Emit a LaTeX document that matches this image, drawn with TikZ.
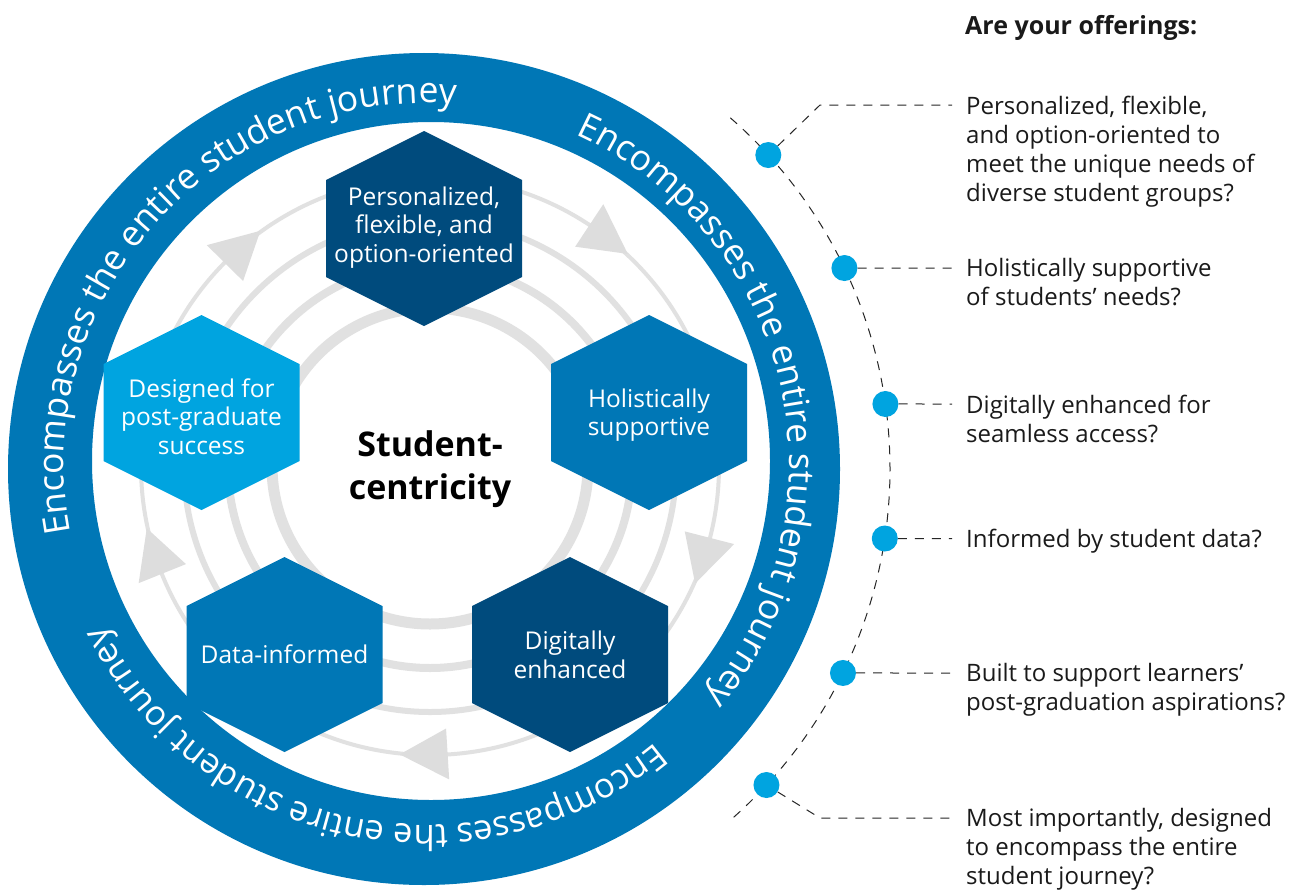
\documentclass[tikz,border=0pt]{standalone}
\usepackage{fontspec}
\setmainfont{Open Sans}
\usetikzlibrary{decorations.text}
\definecolor{ringblue}{HTML}{0077B6}
\definecolor{hexdark}{HTML}{004B7D}
\definecolor{hexmid}{HTML}{0077B6}
\definecolor{hexlight}{HTML}{00A4E0}
\definecolor{dotblue}{HTML}{00A4E0}
\definecolor{ringgray}{HTML}{E1E1E1}
\definecolor{arrowgray}{HTML}{DDDDDD}
\definecolor{txt}{HTML}{1A1A1A}
\begin{document}
\begin{tikzpicture}[x=1pt,y=1pt,
  hexbox/.style={text=white, align=center, font=\fontsize{24.5}{28.7}\selectfont, inner sep=0pt},
  qtext/.style={anchor=north west, align=left, text=txt, font=\fontsize{24}{29}\selectfont, inner sep=0pt},
  dot/.style={circle, fill=dotblue, minimum size=26pt, inner sep=0pt},
  leader/.style={draw=black!85, line width=1pt, dash pattern=on 9pt off 8pt},
]
\useasboundingbox (0,0) rectangle (1297,-891);
\fill[white] (0,0) rectangle (1297,-891);

% gray concentric rings
\coordinate (G) at (430,-466);
\foreach \r/\w in {158/11, 202/8, 246/6, 289/4}
  \draw[ringgray, line width=\w pt] (G) circle (\r);

% flow arrowheads
\foreach \a in {135.3, 56.5, -14.4, -86.5, 201.9} {
  \pgfmathsetmacro\b{\a-9.5}
  \fill[arrowgray] ([shift={(\a:263)}]G) -- ([shift={(\a:314)}]G) -- ([shift={(\b:290)}]G) -- cycle;
}

% outer blue ring
\fill[ringblue, even odd rule] (424,-469) circle (416) (431,-461) circle (339);

% ring texts
\coordinate (T) at (426,-465);
\foreach \c/\rr/\fs in {138/362/35.5, 13/363/35.5, -102/360/34.5} {
  \pgfmathsetmacro\sa{\c+64}
  \pgfmathsetmacro\ea{\c-64}
  \path[decorate, decoration={text along path, text align=center,
      text={|\fontsize{\fs}{40}\selectfont\color{white}|Encompasses the entire student journey}}]
    ([shift={(\sa:\rr)}]T) arc[start angle=\sa, end angle=\ea, radius=\rr];
}

% hexagons
\foreach \x/\y/\col in {424/228.5/hexdark, 649/412.5/hexmid, 570/654.5/hexdark, 284.5/654.5/hexmid, 201.5/412.5/hexlight} {
  \fill[\col] (\x,-\y) ++(0,97.5) -- ++(98,-49) -- ++(0,-97) -- ++(-98,-49) -- ++(-98,49) -- ++(0,97) -- cycle;
}
\node[hexbox] (hP) at (424,-227.5) {Personalized,\\flexible, and\\option-oriented};
\node[hexbox] (hH) at (649,-415) {Holistically\\supportive};
\node[hexbox] (hD) at (570,-655) {Digitally\\enhanced};
\node[hexbox] (hI) at (284.5,-654) {Data-informed};
\node[hexbox] (hS) at (201.5,-416.5) {Designed for\\post-graduate\\success};

% centre
\node[font=\fontsize{34}{43}\selectfont\bfseries, align=center, inner sep=0pt] (sc) at (430,-469.5) {Student-\\centricity};

% right side
\node[font=\fontsize{25}{29}\selectfont\bfseries, anchor=base west, inner sep=0pt, text=txt] (hd) at (965,-35) {Are your offerings:};

\coordinate (O) at (424,-469);
\draw[leader] ([shift={(48.9:466)}]O) arc[start angle=48.9, end angle=-49, radius=466];

\node[dot] (d1) at ([shift={(42.36:466)}]O) {};
\node[dot] (d2) at ([shift={(25.55:466)}]O) {};
\node[dot] (d3) at ([shift={(8.02:466)}]O) {};
\node[dot] (d4) at ([shift={(-8.58:466)}]O) {};
\node[dot] (d5) at ([shift={(-25.96:466)}]O) {};
\node[dot] (d6) at ([shift={(-42.7:466)}]O) {};

\coordinate (k1) at (820,-105);
\coordinate (k6) at (820,-818);
\coordinate (e1) at (952,-105);
\coordinate (e2) at (952,-268);
\coordinate (e3) at (952,-404);
\coordinate (e4) at (952,-538.5);
\coordinate (e5) at (952,-673);
\coordinate (e6) at (952,-818);
\draw[leader] (d1) -- (k1) -- (e1);
\draw[leader] (d2) -- (e2);
\draw[leader] (d3) -- (e3);
\draw[leader] (d4) -- (e4);
\draw[leader] (d5) -- (e5);
\draw[leader] (d6) -- (k6) -- (e6);

\node[qtext] (t1) at (966,-95.5) {\rule{0pt}{18pt}Personalized, flexible,\\and option-oriented to\\meet the unique needs of\\diverse student groups?};
\node[qtext] (t2) at (966,-258.5) {\rule{0pt}{18pt}Holistically supportive\\of students’ needs?};
\node[qtext] (t3) at (966,-394.5) {\rule{0pt}{18pt}Digitally enhanced for\\seamless access?};
\node[qtext] (t4) at (966,-529) {\rule{0pt}{18pt}Informed by student data?};
\node[qtext] (t5) at (966,-663.5) {\rule{0pt}{18pt}Built to support learners’\\post-graduation aspirations?};
\node[qtext] (t6) at (966,-808.5) {\rule{0pt}{18pt}Most importantly, designed\\to encompass the entire\\student journey?};
\end{tikzpicture}
\end{document}
